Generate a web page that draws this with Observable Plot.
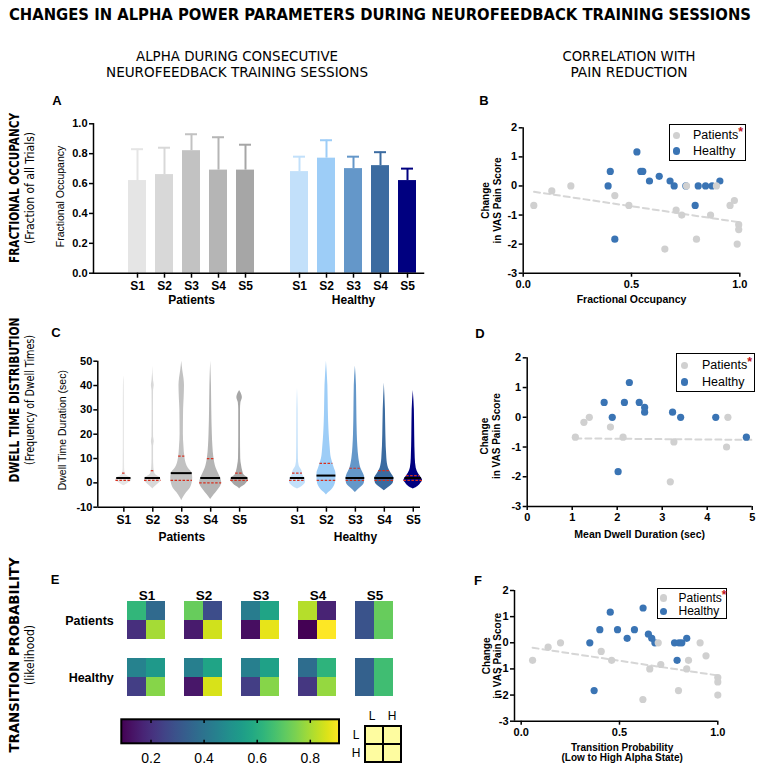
<!DOCTYPE html>
<html><head><meta charset="utf-8">
<script src="https://cdn.jsdelivr.net/npm/d3@7"></script>
<script src="https://cdn.jsdelivr.net/npm/@observablehq/plot@0.6"></script>
<style>
body{margin:0;background:#fff;}
#root{position:relative;width:760px;height:773px;overflow:hidden;background:#fff;font-family:"Liberation Sans",Arial,Helvetica,sans-serif;}
</style></head><body><div id="root"></div><script>
// ---------------- DATA ----------------
const sessions = ["S1","S2","S3","S4","S5"];
const groups = ["Patients","Healthy"];

// Panel A: fractional occupancy (mean and top of error bar)
const foPatients = [0.62,0.66,0.82,0.69,0.69];
const foPatientsUpper = [0.83,0.84,0.93,0.91,0.86];
const foHealthy = [0.68,0.77,0.70,0.72,0.62];
const foHealthyUpper = [0.78,0.89,0.78,0.81,0.70];

// Panel C: dwell time violins, profiles [dwell time (sec), relative density]
const violinPatients = [
  [[-1.2,0],[-1,0.1],[0,0.45],[1,0.72],[1.5,0.72],[2,0.65],[3,0.25],[4,0.12],[6,0.07],[10,0.06],[20,0.05],[30,0.05],[40,0.04],[44,0]],
  [[-2.5,0],[-2,0.1],[-1,0.35],[0,0.6],[1,0.75],[2,0.7],[3,0.35],[4,0.18],[6,0.1],[10,0.07],[15,0.07],[17,0.13],[19,0.07],[30,0.06],[38,0.07],[40,0.13],[42,0.07],[48,0]],
  [[-7.3,0],[-6,0.15],[-4,0.45],[-2,0.8],[0,0.95],[2,1],[4,0.95],[6,0.6],[8,0.4],[10,0.3],[15,0.2],[20,0.15],[30,0.17],[35,0.22],[40,0.25],[43,0.2],[46,0.1],[50,0]],
  [[-6.8,0],[-5,0.3],[-3,0.65],[-1,0.95],[0,1],[2,0.9],[4,0.7],[6,0.5],[10,0.3],[15,0.2],[20,0.15],[30,0.1],[40,0.07],[50,0]],
  [[-2.5,0],[-2,0.1],[-1,0.45],[0,0.65],[1,0.8],[2,0.75],[3,0.45],[5,0.27],[7,0.18],[10,0.1],[20,0.08],[30,0.08],[33,0.12],[35,0.25],[37,0.12],[38,0]]
];
const violinHealthy = [
  [[-2.5,0],[-2,0.25],[-1,0.55],[0,0.72],[1,0.72],[2,0.65],[3,0.5],[5,0.4],[7,0.15],[10,0.08],[20,0.06],[30,0.05],[39,0]],
  [[-5,0],[-4,0.2],[-3,0.45],[-1,0.75],[0,0.82],[2,0.86],[4,0.86],[6,0.72],[10,0.45],[15,0.33],[20,0.25],[25,0.2],[30,0.17],[40,0.13],[50,0]],
  [[-4,0],[-3,0.2],[-2,0.45],[-1,0.7],[0,0.82],[2,0.85],[3,0.8],[6,0.5],[10,0.32],[15,0.22],[20,0.17],[30,0.13],[40,0.1],[48,0]],
  [[-3.2,0],[-2,0.35],[-1,0.65],[0,0.82],[2,0.87],[4,0.62],[6,0.38],[10,0.23],[20,0.14],[30,0.1],[41,0]],
  [[-2.5,0],[-2,0.25],[-1,0.55],[0,0.72],[1,0.85],[2,0.75],[4,0.45],[6,0.27],[10,0.18],[20,0.13],[30,0.1],[38,0]]
];
const medianPatients = [2,2,4,2,2];
const q1Patients = [1,1,1,0,1];
const q3Patients = [4,5,11,10,4];
const medianHealthy = [2,3,2,2,2];
const q1Healthy = [1,1,1,1,1];
const q3Healthy = [4,8,6,5,3];

// Panel E: transition probability matrices [L->L, L->H, H->L, H->H]
const tpPatients = [[0.63,0.37,0.20,0.80],[0.72,0.28,0.15,0.85],[0.43,0.57,0.12,0.88],[0.82,0.17,0.09,0.91],[0.30,0.72,0.30,0.71]];
const tpHealthy = [[0.45,0.53,0.24,0.76],[0.44,0.57,0.14,0.86],[0.44,0.56,0.24,0.76],[0.38,0.62,0.22,0.78],[0.34,0.66,0.34,0.66]];
const states = ["L","H"];
const colorDomain = [0.09,0.91];
const colorTicks = [0.2,0.4,0.6,0.8];

// Panels B, D, F: [x, change in VAS pain score]
const bPatients = [[0.049,-0.67],[0.132,-0.17],[0.22,0],[0.423,-0.33],[0.488,-0.67],[0.654,-2.17],[0.706,-0.83],[0.732,-1],[0.754,0],[0.80,-1.83],[0.865,-1],[0.892,0],[0.955,-0.67],[0.975,-0.5],[0.995,-1.33],[0.995,-1.5],[0.988,-2]];
const bHealthy = [[0.392,0],[0.402,0.5],[0.423,-1.83],[0.525,1.17],[0.543,0.5],[0.552,0.5],[0.583,0.17],[0.628,0.33],[0.678,0.17],[0.697,0],[0.751,0],[0.794,-0.67],[0.808,0],[0.842,0],[0.872,0],[0.908,0.17]];
const bTrend = [[0.05,-0.2],[1.0,-1.25]];

const dPatients = [[1.07,-0.67],[1.26,-0.17],[1.38,0],[1.85,-0.33],[2.13,-0.67],[3.18,-2.17],[3.26,-0.83],[4.43,-1],[4.46,0]];
const dHealthy = [[1.71,0.5],[1.89,0],[2.02,-1.83],[2.16,0.5],[2.27,1.17],[2.49,0.5],[2.61,0.33],[2.61,0.17],[3.23,0.17],[3.41,0],[4.19,0],[4.87,-0.67]];
const dTrend = [[1.07,-0.71],[5.0,-0.76]];

const fPatients = [[0.058,-0.67],[0.137,-0.17],[0.20,0],[0.407,-0.33],[0.46,-0.67],[0.619,-2.17],[0.654,-1],[0.697,0],[0.71,-0.83],[0.842,-1],[0.851,-0.67],[0.80,-1.83],[0.91,0],[0.94,-0.5],[1.0,-1.33],[1.0,-1.5],[1.0,-2]];
const fHealthy = [[0.349,0],[0.40,0.5],[0.371,-1.83],[0.453,1.17],[0.49,0.5],[0.539,0.17],[0.576,0.5],[0.62,1.33],[0.647,0.33],[0.664,0.17],[0.68,0],[0.78,0],[0.793,-0.67],[0.803,0],[0.817,0],[0.842,0.17]];
const fTrend = [[0.058,-0.19],[1.0,-1.25]];

const vasTicks = [-3,-2,-1,0,1,2];

// ---------------- STYLES ----------------
const patientColors = ["#e5e5e5","#d8d8d8","#c2c2c2","#b5b5b5","#a6a6a6"];
const healthyColors = ["#c2e0fa","#9dcdf7","#6497c9","#3b6ba0","#000080"];
const GRAY = "#d0d0d0", BLUE = "#3a74b4", TREND = "#d6d6d6", RED = "#d7301f", PALE = "#fefca0";
const FONT = '"Liberation Sans", Arial, Helvetica, sans-serif';
const NARROW = '"Liberation Sans Narrow","Arial Narrow","DejaVu Sans Condensed",sans-serif';

const root = document.getElementById("root");
function place(el, left, top) {
  el.style.position = "absolute"; el.style.left = left + "px"; el.style.top = top + "px";
  el.style.background = "none"; el.style.overflow = "visible"; el.style.maxWidth = "none";
  el.style.fontFamily = FONT; el.style.color = "#000";
  root.appendChild(el); return el;
}

// ---------------- OVERLAY TEXT ----------------
const ov = d3.create("svg").attr("width", 760).attr("height", 773)
  .style("position","absolute").style("left","0px").style("top","0px");
function otext(x, y, str, o = {}) {
  const t = ov.append("text").attr("x", x).attr("y", y).text(str)
    .attr("text-anchor", o.anchor || "middle").attr("dominant-baseline", "central")
    .attr("font-size", o.size || 12).attr("font-weight", o.weight || "normal")
    .attr("font-family", o.narrow ? NARROW : FONT).attr("fill", "#000");
  if (o.length) t.attr("textLength", o.length).attr("lengthAdjust", "spacingAndGlyphs");
  if (o.rotate) t.attr("transform", `rotate(${o.rotate},${x},${y})`);
  return t;
}
otext(380, 15, "CHANGES IN ALPHA POWER PARAMETERS DURING NEUROFEEDBACK TRAINING  SESSIONS", {size: 15.5, weight: "bold", narrow: true, length: 742});
otext(237, 56, "ALPHA DURING CONSECUTIVE", {size: 14, narrow: true, length: 202});
otext(237, 72, "NEUROFEEDBACK TRAINING SESSIONS", {size: 14, narrow: true, length: 262});
otext(629, 56, "CORRELATION WITH", {size: 14, narrow: true, length: 133});
otext(629, 72, "PAIN REDUCTION", {size: 14, narrow: true, length: 117});
[["A",57,100],["B",484,100],["C",56,332],["D",480,333],["E",55,579],["F",478,580]]
  .forEach(([l,x,y]) => otext(x, y, l, {size: 13, weight: "bold"}));
[["FRACTIONAL OCCUPANCY","(Fraction of all Trials)",188,150,112],
 ["DWELL TIME DISTRIBUTION","(Frequency of Dwell Times)",400,165,130],
 ["TRANSITION PROBABILITY","(likelihood)",655,195,60]].forEach(([a,b,y,la,lb]) => {
  otext(14, y, a, {size: 14.5, weight: "bold", narrow: true, rotate: -90, length: la});
  otext(30, y, b, {size: 11.5, narrow: true, rotate: -90, length: lb});
});
// state labels of the small L/H key
otext(372, 716, states[0], {size: 12});
otext(392, 716, states[1], {size: 12});
otext(356, 735, states[0], {size: 12});
otext(356, 753, states[1], {size: 12});
root.appendChild(ov.node());

// ---------------- PANEL A ----------------
const aRows = groups.flatMap(g => sessions.map((s, i) => ({
  key: g + " " + s, group: g,
  mean: g === "Patients" ? foPatients[i] : foHealthy[i],
  upper: g === "Patients" ? foPatientsUpper[i] : foHealthyUpper[i],
  color: g === "Patients" ? patientColors[i] : healthyColors[i]
})));
const aKeys = ["_pad", ...aRows.filter(d => d.group === "Patients").map(d => d.key), "_gap", ...aRows.filter(d => d.group === "Healthy").map(d => d.key)];
place(Plot.plot({
  width: 390, height: 210, marginLeft: 53, marginRight: 7, marginTop: 13.3, marginBottom: 47.3,
  x: {type: "band", domain: aKeys, paddingInner: 0.35, paddingOuter: 0.175, axis: null},
  y: {domain: [0, 1], axis: null},
  color: {type: "identity"},
  marks: [
    Plot.barY(aRows, {x: "key", y: "mean", fill: "color"}),
    Plot.ruleX(aRows, {x: "key", y1: "mean", y2: "upper", stroke: "color", strokeWidth: 2}),
    Plot.tickY(aRows, {x: "key", y: "upper", stroke: "color", strokeWidth: 2, inset: 3}),
    Plot.frame({anchor: "left", stroke: "black", strokeWidth: 1.5}),
    Plot.frame({anchor: "bottom", stroke: "black", strokeWidth: 1.5}),
    Plot.axisY({ticks: [0,0.2,0.4,0.6,0.8,1], tickFormat: d => d.toFixed(1), tickSize: 4, tickPadding: 2, fontSize: 11, fontWeight: "bold", strokeWidth: 1.5, fill: "black", label: null}),
    Plot.axisX({ticks: aRows.map(d => d.key), tickFormat: d => d.split(" ")[1], tickSize: 5, tickPadding: 3, fontSize: 12, fontWeight: "bold", strokeWidth: 1.5, fill: "black", label: null}),
    Plot.text(groups, {x: g => g + " S3", text: g => g, frameAnchor: "bottom", dy: 31, fontSize: 12, fontWeight: "bold"}),
    Plot.text(["Fractional Occupancy"], {text: d => d, frameAnchor: "left", textAnchor: "middle", rotate: -90, dx: -32.5, dy: -2, fontSize: 10.5})
  ]
}), 40, 110);

// ---------------- PANEL C ----------------
const VW = 0.38;
function halfAt(profile, y) {
  for (let k = 0; k < profile.length - 1; k++) {
    const [y0, w0] = profile[k], [y1, w1] = profile[k + 1];
    if (y >= y0 && y <= y1) return w0 + (w1 - w0) * (y - y0) / (y1 - y0);
  }
  return 0;
}
const violins = groups.flatMap(g => sessions.map((s, i) => {
  const P = g === "Patients";
  return {key: g + s, pos: P ? i + 1 : i + 7, profile: P ? violinPatients[i] : violinHealthy[i],
    color: P ? patientColors[i] : healthyColors[i],
    median: P ? medianPatients[i] : medianHealthy[i],
    q1: P ? q1Patients[i] : q1Healthy[i], q3: P ? q3Patients[i] : q3Healthy[i], session: s};
}));
const violinPts = violins.flatMap(v => v.profile.map(([y, w]) => ({key: v.key, pos: v.pos, y, w, color: v.color})));
const quartiles = violins.flatMap(v => [v.q1, v.q3].map(q => ({pos: v.pos, y: q, hw: halfAt(v.profile, q) * VW})));
place(Plot.plot({
  width: 390, height: 220, marginLeft: 57.3, marginRight: 10, marginTop: 30.7, marginBottom: 43.3,
  x: {domain: [0.1, 11.25], axis: null},
  y: {domain: [-10, 50], axis: null},
  color: {type: "identity"},
  marks: [
    Plot.areaX(violinPts, {y: "y", x1: d => d.pos - d.w * VW, x2: d => d.pos + d.w * VW, z: "key", fill: "color", curve: "monotone-y"}),
    Plot.ruleY(violins, {y: "median", x1: d => d.pos - halfAt(d.profile, d.median) * VW, x2: d => d.pos + halfAt(d.profile, d.median) * VW, stroke: "black", strokeWidth: 2}),
    Plot.ruleY(quartiles, {y: "y", x1: d => d.pos - d.hw, x2: d => d.pos + d.hw, stroke: RED, strokeWidth: 1.2, strokeDasharray: "2.5,1.5"}),
    Plot.ruleX([0.1], {stroke: "black", strokeWidth: 1.5}),
    Plot.ruleY([-10], {stroke: "black", strokeWidth: 1.5}),
    Plot.axisY({ticks: [-10,0,10,20,30,40,50], tickFormat: d => String(d), tickSize: 4, tickPadding: 1.5, fontSize: 11, fontWeight: "bold", strokeWidth: 1.5, fill: "black", label: null}),
    Plot.axisX({ticks: violins.map(v => v.pos), tickFormat: p => violins.find(v => v.pos === p).session, tickSize: 5, tickPadding: 3, fontSize: 12, fontWeight: "bold", strokeWidth: 1.5, fill: "black", label: null}),
    Plot.text(groups, {x: g => violins.find(v => v.key === g + "S3").pos, text: g => g, frameAnchor: "bottom", dy: 33.5, fontSize: 12, fontWeight: "bold"}),
    Plot.text(["Dwell Time Duration (sec)"], {text: d => d, frameAnchor: "left", textAnchor: "middle", rotate: -90, dx: -35, dy: -4, fontSize: 10.5})
  ]
}), 40, 330);

// ---------------- PANEL E ----------------
const eX = sessions.flatMap((s, i) => i < sessions.length - 1 ? [s + " L", s + " H", s + " gap"] : [s + " L", s + " H"]);
const eY = ["Patients L", "Patients H", "gap", "Healthy L", "Healthy H"];
const eCells = groups.flatMap(g => sessions.flatMap((s, i) => {
  const m = g === "Patients" ? tpPatients[i] : tpHealthy[i];
  return [["L","L",m[0]],["L","H",m[1]],["H","L",m[2]],["H","H",m[3]]].map(([f, t, v]) => ({x: s + " " + t, y: g + " " + f, v}));
}));
place(Plot.plot({
  width: 380, height: 140, marginLeft: 81.3, marginRight: 21.2, marginTop: 29.3, marginBottom: 11.7,
  x: {type: "band", domain: eX, padding: 0, axis: null},
  y: {type: "band", domain: eY, padding: 0, axis: null},
  color: {type: "linear", scheme: "viridis", domain: colorDomain, clamp: true},
  marks: [
    Plot.cell(eCells, {x: "x", y: "y", fill: "v", inset: 0}),
    Plot.text(sessions, {x: s => s + " L", dx: 9.9, text: s => s, frameAnchor: "top", dy: -9, fontSize: 13.5, fontWeight: "bold", fill: "black"}),
    Plot.text(groups, {y: g => g + " L", dy: 9.9, text: g => g, frameAnchor: "left", dx: -8, textAnchor: "end", fontSize: 12.5, fontWeight: "bold", fill: "black"})
  ]
}), 40, 570);

// colour bar
const cb = place(Plot.plot({
  width: 320, height: 63, marginLeft: 21.3, marginRight: 81, marginTop: 9.3, marginBottom: 29.7,
  x: {domain: colorDomain, axis: null},
  y: {domain: [0, 1], axis: null},
  marks: [
    Plot.rect([colorDomain], {x1: d => d[0], x2: d => d[1], y1: 0, y2: 1, fill: "url(#viridisRamp)", stroke: "black", strokeWidth: 2}),
    Plot.ruleX(colorTicks, {y1: 0, y2: 0.15, stroke: "black", strokeWidth: 1.5}),
    Plot.ruleX(colorTicks, {y1: 0.85, y2: 1, stroke: "black", strokeWidth: 1.5}),
    Plot.axisX({ticks: colorTicks, tickFormat: d => d.toFixed(1), tickSize: 0, tickPadding: 9, fontSize: 14, fill: "black", label: null})
  ]
}), 100, 710);
const grad = d3.select(cb).append("defs").append("linearGradient").attr("id", "viridisRamp");
d3.range(0, 1.0001, 0.05).forEach(t => grad.append("stop").attr("offset", t).attr("stop-color", d3.interpolateViridis(t)));

// L/H key (2x2 cells)
place(Plot.plot({
  width: 40, height: 40, marginLeft: 2, marginRight: 2, marginTop: 2, marginBottom: 2,
  x: {type: "band", domain: states, padding: 0, axis: null},
  y: {type: "band", domain: states, padding: 0, axis: null},
  marks: [
    Plot.cell(states.flatMap(f => states.map(t => ({f, t}))), {x: "t", y: "f", fill: PALE, stroke: "black", strokeWidth: 2, inset: 0})
  ]
}), 363.3, 724);

// ---------------- SCATTER PANELS ----------------
function scatter(o) {
  return Plot.plot({
    width: o.width, height: o.height, marginLeft: o.ml, marginRight: o.mr, marginTop: o.mt, marginBottom: o.mb,
    x: {domain: o.xDomain, axis: null},
    y: {domain: [-3, 2], axis: null},
    marks: [
      Plot.line(o.trend, {x: d => d[0], y: d => d[1], stroke: TREND, strokeWidth: 2, strokeDasharray: "6,4"}),
      Plot.dot(o.healthy, {x: d => d[0], y: d => d[1], r: 3.6, fill: BLUE}),
      Plot.dot(o.patients, {x: d => d[0], y: d => d[1], r: 3.6, fill: GRAY}),
      Plot.ruleX([o.xDomain[0]], {stroke: "black", strokeWidth: 1.5}),
      Plot.ruleY([-3], {stroke: "black", strokeWidth: 1.5}),
      Plot.axisY({ticks: vasTicks, tickFormat: d => String(d), tickSize: 4, tickPadding: 2, fontSize: 11, fontWeight: "bold", strokeWidth: 1.5, fill: "black", label: null}),
      Plot.axisX({ticks: o.xTicks, tickFormat: o.xFormat, tickSize: 4, tickPadding: 3, fontSize: 11, fontWeight: "bold", strokeWidth: 1.5, fill: "black", label: null}),
      Plot.text(["Change\nin VAS Pain Score"], {text: d => d, frameAnchor: "left", textAnchor: "middle", rotate: -90, dx: o.ylDx, dy: o.ylDy || 0, fontSize: 10, fontWeight: "bold", lineHeight: 1.15}),
      Plot.text([o.xLabel], {text: d => d, frameAnchor: "bottom", dy: o.xlDy, dx: o.xlDx || 0, fontSize: o.xlSize || 10.5, fontWeight: "bold", lineHeight: 1.0})
    ]
  });
}
function legend(left, top, w, h, dotX, textX, r1, r2, fs) {
  const box = document.createElement("div");
  Object.assign(box.style, {position: "absolute", left: left + "px", top: top + "px", width: w + "px", height: h + "px",
    border: "1.5px solid #000", boxSizing: "border-box", background: "#fff", fontFamily: FONT, fontSize: fs + "px", color: "#000"});
  [[r1, GRAY, "Patients", true], [r2, BLUE, "Healthy", false]].forEach(([cy, col, label, star]) => {
    const dot = document.createElement("div");
    Object.assign(dot.style, {position: "absolute", left: (dotX - 3.6) + "px", top: (cy - 3.6) + "px", width: "7.2px", height: "7.2px", borderRadius: "50%", background: col});
    box.appendChild(dot);
    const t = document.createElement("div");
    Object.assign(t.style, {position: "absolute", left: textX + "px", top: (cy - fs * 0.6) + "px", lineHeight: (fs * 1.2) + "px", whiteSpace: "nowrap"});
    t.innerHTML = label + (star ? '<span style="color:#c0141b;font-weight:bold;position:relative;top:-3px;">*</span>' : "");
    box.appendChild(t);
  });
  root.appendChild(box);
}

place(scatter({width: 320, height: 210, ml: 82.7, mr: 20.7, mt: 17.3, mb: 47.3,
  xDomain: [0, 1], xTicks: [0, 0.5, 1], xFormat: d => d.toFixed(1), trend: bTrend, patients: bPatients, healthy: bHealthy,
  ylDx: -31.7, xLabel: "Fractional Occupancy", xlDy: 29.3}), 440, 110);
legend(669, 124, 77, 37, 6.5, 23, 10.5, 26, 12.5);

place(scatter({width: 320, height: 230, ml: 86.7, mr: 8.3, mt: 37.3, mb: 44,
  xDomain: [0, 5], xTicks: [0,1,2,3,4,5], xFormat: d => String(d), trend: dTrend, patients: dPatients, healthy: dHealthy,
  ylDx: -37, ylDy: 4, xLabel: "Mean Dwell Duration (sec)", xlDy: 31}), 440, 320);
legend(676, 353, 79, 39, 7.5, 25, 11.5, 28, 12.5);

place(scatter({width: 320, height: 213, ml: 74, mr: 42.7, mt: 30, mb: 52.3,
  xDomain: [-0.034, 1], xTicks: [0, 0.5, 1], xFormat: d => d.toFixed(1), trend: fTrend, patients: fPatients, healthy: fHealthy,
  ylDx: -22.7, xLabel: "Transition Probability\n(Low to High Alpha State)", xlDx: 6, xlDy: 40, xlSize: 10}), 440, 560);
legend(657, 588, 70, 31, 5.5, 20.5, 9, 22.5, 12);
</script></body></html>
